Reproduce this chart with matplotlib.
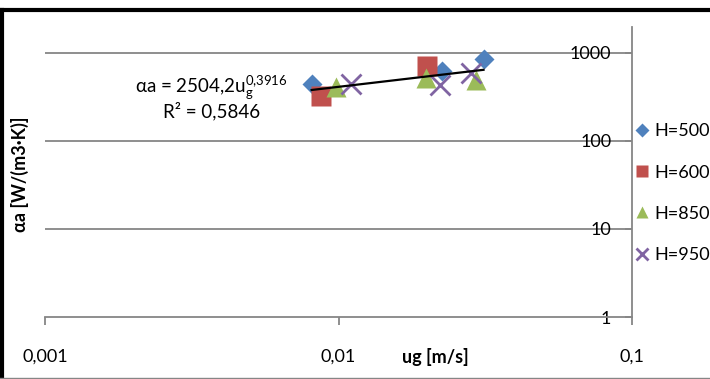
import numpy as np
import matplotlib
matplotlib.use('Agg')
import matplotlib.pyplot as plt
from matplotlib.lines import Line2D

plt.rcParams['font.family'] = ['Lato', 'DejaVu Sans']
plt.rcParams['mathtext.fontset'] = 'custom'
plt.rcParams['mathtext.rm'] = 'Lato'
plt.rcParams['mathtext.it'] = 'Lato'

# series
x500 = [0.0081, 0.0226, 0.0312]
y500 = [441, 629, 848]
x600 = [0.0087, 0.0201]
y600 = [327, 711]
x850 = [0.0098, 0.0198, 0.0293]
y850 = [414, 516, 493]
x950 = [0.0110, 0.0221, 0.0282]
y950 = [444, 433, 597]

fit_a = 2504.2
fit_b = 0.3916
r2 = '0,5846'

xticks = [0.001, 0.01, 0.1]
xticklabels = ['0,001', '0,01', '0,1']
yticks = [1, 10, 100, 1000]
yticklabels = ['1', '10', '100', '1000']

fig = plt.figure(figsize=(7.1, 3.79), dpi=100)
ax = fig.add_axes([45/710, 1-317/379, 587/710, (317-26.5)/379])

grey = '#868686'
ax.set_xscale('log')
ax.set_yscale('log')
ax.set_xlim(0.001, 0.1)
ax.set_ylim(1, 2000)

for yv in yticks[1:]:
    ax.axhline(yv, color=grey, lw=1.3, zorder=1)

ax.plot(x500, y500, 'D', color='#4F81BD', ms=10.5, mec='none', label='H=500', zorder=3)
ax.plot(x600, y600, 's', color='#C0504D', ms=14, mec='none', label='H=600', zorder=3)
ax.plot(x850, y850, '^', color='#9BBB59', ms=14, mec='none', label='H=850', zorder=3)
ax.plot(x950, y950, 'x', color='#8064A2', ms=14, mew=2, label='H=950', zorder=3)

allx = x500 + x600 + x850 + x950
xf = np.array([min(allx), max(allx)])
ax.plot(xf, fit_a * xf ** fit_b, color='black', lw=1.6, zorder=4)

ax.text(211/710, 1-88/379, r'αa = 2504,2u$_{\mathregular{g}}^{\mathregular{0{,}3916}}$',
        transform=fig.transFigure, ha='center', va='center', fontsize=13.5)
ax.text(212/710, 1-111/379, 'R² = ' + r2, transform=fig.transFigure,
        ha='center', va='center', fontsize=13.5)

for s in ['top', 'left']:
    ax.spines[s].set_visible(False)
ax.spines['right'].set_color(grey)
ax.spines['bottom'].set_color(grey)
ax.spines['right'].set_linewidth(1.3)
ax.spines['bottom'].set_linewidth(1.3)

ax.set_xticks(xticks)
ax.set_xticklabels(xticklabels)
ax.xaxis.set_minor_locator(matplotlib.ticker.NullLocator())
ax.tick_params(axis='x', direction='out', length=6, width=1.3, color=grey,
               labelsize=13, pad=17)

ax.yaxis.set_ticks_position('right')
ax.set_yticks(yticks)
ax.set_yticklabels(yticklabels)
ax.yaxis.set_minor_locator(matplotlib.ticker.NullLocator())
ax.tick_params(axis='y', direction='in', length=5, width=1.3, color=grey,
               labelsize=13, pad=-15)
for t in ax.get_yticklabels():
    t.set_ha('right')

ax.set_xlabel('ug [m/s]', fontsize=13, fontweight='bold')
ax.xaxis.set_label_coords((435-45)/587, -0.105)
ax.set_ylabel('αa [W/(m3·K)]', fontsize=13, fontweight='bold')
ax.yaxis.set_label_position('left')
ax.yaxis.set_label_coords(-(45-29)/587, 0.49)

leg = ax.legend(loc='upper left', bbox_to_anchor=(628/710, 1-116/379),
                bbox_transform=fig.transFigure, frameon=False, fontsize=13,
                markerscale=0.65, handlelength=0.7, handletextpad=0.35,
                labelspacing=1.4, borderaxespad=0)

# chart frame
fig.add_artist(Line2D([2/710, 2/710], [0, 1-10/379], color='black', lw=3))
fig.add_artist(Line2D([2/710, 1], [1-10/379, 1-10/379], color='black', lw=3))
fig.add_artist(Line2D([0, 1], [1/379, 1/379], color=grey, lw=1))

fig.savefig('out.png', dpi=100)
